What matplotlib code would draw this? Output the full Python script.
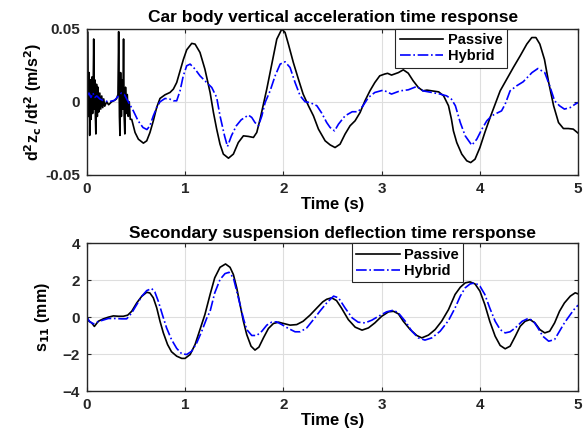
import matplotlib
matplotlib.use('Agg')
import matplotlib.pyplot as plt

plt.rcParams['font.family'] = ['Liberation Sans', 'DejaVu Sans']
plt.rcParams['font.weight'] = 'bold'
plt.rcParams['mathtext.default'] = 'bf'

# car body vertical acceleration (m/s^2)
t_acc_p = [0.0, 0.005, 0.015, 0.022, 0.027, 0.035, 0.042, 0.05, 0.057, 0.063,
           0.068, 0.075, 0.08, 0.085, 0.09, 0.097, 0.105, 0.112, 0.12, 0.13,
           0.14, 0.15, 0.16, 0.17, 0.18, 0.2, 0.22, 0.25, 0.28, 0.3,
           0.315, 0.322, 0.33, 0.335, 0.342, 0.35, 0.357, 0.365, 0.372, 0.378,
           0.385, 0.392, 0.4, 0.41, 0.42, 0.43, 0.44, 0.455, 0.489, 0.523,
           0.574, 0.608, 0.641, 0.675, 0.709, 0.743, 0.794, 0.845, 0.879, 0.913,
           0.947, 0.981, 1.015, 1.066, 1.10, 1.15, 1.20, 1.253, 1.287, 1.32,
           1.354, 1.388, 1.44, 1.49, 1.54, 1.592, 1.643, 1.694, 1.728, 1.762,
           1.796, 1.83, 1.864, 1.898, 1.932, 1.983, 2.016, 2.05, 2.10, 2.152,
           2.20, 2.254, 2.305, 2.356, 2.424, 2.475, 2.525, 2.576, 2.627, 2.678,
           2.729, 2.78, 2.83, 2.88, 2.93, 2.98, 3.03, 3.06, 3.10, 3.13,
           3.17, 3.22, 3.27, 3.32, 3.373, 3.42, 3.46, 3.51, 3.58, 3.63,
           3.68, 3.71, 3.73, 3.764, 3.815, 3.866, 3.906, 3.95, 4.0, 4.05,
           4.104, 4.155, 4.206, 4.273, 4.34, 4.41, 4.477, 4.528, 4.57, 4.61,
           4.657, 4.70, 4.75, 4.80, 4.85, 4.90, 4.95, 5.0]
acc_passive = [0.0, 0.048, -0.01, 0.02, -0.023, 0.015, -0.012, 0.017, -0.008, 0.01,
               0.043, -0.005, 0.015, -0.01, -0.022, 0.012, -0.01, 0.01, -0.007, 0.006,
               -0.005, 0.004, -0.004, 0.002, -0.003, 0.0, -0.002, 0.0, 0.001, 0.002,
               0.005, 0.048, -0.01, -0.023, 0.02, -0.01, 0.015, -0.005, 0.043, -0.01,
               -0.022, 0.01, -0.008, 0.005, -0.01, 0.0, -0.012, -0.012, -0.021, -0.0256,
               -0.0283, -0.0267, -0.021, -0.013, -0.0039, 0.0023, 0.0048, 0.0064, 0.0087, 0.0132,
               0.0212, 0.029, 0.0356, 0.040, 0.0395, 0.0338, 0.0224, 0.0064, -0.0073, -0.0187,
               -0.029, -0.0358, -0.0386, -0.0358, -0.0279, -0.0233, -0.0237, -0.0244, -0.021, -0.0119,
               -0.0016, 0.0087, 0.020, 0.0315, 0.0429, 0.0498, 0.0475, 0.0395, 0.027, 0.0155,
               0.0053, -0.0027, -0.0096, -0.0187, -0.0267, -0.0295, -0.0313, -0.029, -0.0221, -0.0164,
               -0.013, -0.0073, 0.0007, 0.0075, 0.0132, 0.0178, 0.019, 0.0195, 0.0183, 0.0190,
               0.020, 0.0219, 0.0196, 0.0144, 0.0098, 0.0075, 0.0080, 0.0075, 0.0068, 0.0041,
               -0.0027, -0.0119, -0.0199, -0.0279, -0.0358, -0.0404, -0.0416, -0.0393, -0.0313, -0.021,
               -0.0107, -0.0016, 0.0075, 0.0155, 0.0235, 0.0315, 0.0395, 0.044, 0.044, 0.0395,
               0.029, 0.0132, -0.0027, -0.0142, -0.0183, -0.0183, -0.0187, -0.0215]

t_acc_h = [0.0, 0.02, 0.04, 0.06, 0.08, 0.10, 0.13, 0.16, 0.22, 0.28,
           0.32, 0.35, 0.38, 0.42, 0.47, 0.52, 0.57, 0.61, 0.64, 0.675,
           0.71, 0.743, 0.794, 0.845, 0.879, 0.913, 0.947, 0.98, 1.015, 1.05,
           1.10, 1.15, 1.20, 1.27, 1.32, 1.354, 1.40, 1.43, 1.47, 1.52,
           1.57, 1.643, 1.677, 1.71, 1.745, 1.78, 1.813, 1.864, 1.915, 1.966,
           2.016, 2.067, 2.118, 2.17, 2.22, 2.27, 2.34, 2.39, 2.44, 2.475,
           2.52, 2.56, 2.627, 2.70, 2.76, 2.81, 2.865, 2.93, 3.017, 3.10,
           3.187, 3.27, 3.357, 3.42, 3.51, 3.595, 3.66, 3.71, 3.75, 3.80,
           3.85, 3.917, 3.968, 4.02, 4.07, 4.12, 4.172, 4.22, 4.257, 4.307,
           4.375, 4.44, 4.53, 4.59, 4.66, 4.71, 4.76, 4.81, 4.86, 4.92,
           4.97, 5.0]
acc_hybrid = [0.004, 0.006, 0.003, 0.006, 0.003, 0.004, 0.002, 0.001, 0.0, 0.001,
              0.004, 0.006, 0.005, 0.0, -0.006, -0.013, -0.0176, -0.019, -0.0164, -0.0096,
              -0.0039, 0.0, 0.0023, 0.0018, 0.0007, 0.0007, 0.0075, 0.0178, 0.0247, 0.0258,
              0.0224, 0.0178, 0.0144, 0.0098, 0.003, -0.0096, -0.0233, -0.0306, -0.0233, -0.0164,
              -0.0123, -0.0091, -0.0107, -0.0142, -0.0164, -0.0096, -0.0005, 0.0075, 0.0178, 0.0258,
              0.0274, 0.0235, 0.0132, 0.0041, 0.0, -0.0005, -0.0027, -0.0078, -0.0142, -0.0176,
              -0.0199, -0.0153, -0.0096, -0.0068, -0.0068, -0.0027, 0.003, 0.0064, 0.008, 0.0053,
              0.0075, 0.0082, 0.0105, 0.0075, 0.0064, 0.0053, 0.0041, 0.0018, -0.0027, -0.0142,
              -0.0233, -0.0297, -0.0256, -0.0187, -0.013, -0.0096, -0.0078, -0.0062, -0.0016, 0.0075,
              0.011, 0.0137, 0.020, 0.0228, 0.020, 0.011, 0.0007, -0.0027, -0.005, -0.0039,
              -0.0016, -0.0005]

# secondary suspension deflection (mm)
t_def_p = [0.0, 0.02, 0.048, 0.075, 0.115, 0.166, 0.217, 0.268, 0.32, 0.37,
           0.414, 0.455, 0.506, 0.557, 0.608, 0.64, 0.675, 0.71, 0.743, 0.777,
           0.82, 0.86, 0.913, 0.964, 0.998, 1.05, 1.10, 1.15, 1.20, 1.253,
           1.30, 1.354, 1.41, 1.456, 1.49, 1.524, 1.558, 1.592, 1.626, 1.67,
           1.71, 1.75, 1.796, 1.847, 1.898, 1.95, 2.0, 2.067, 2.135, 2.2,
           2.27, 2.34, 2.4, 2.44, 2.49, 2.54, 2.59, 2.66, 2.73, 2.80,
           2.865, 2.93, 3.0, 3.07, 3.12, 3.17, 3.22, 3.29, 3.357, 3.408,
           3.476, 3.544, 3.61, 3.68, 3.747, 3.80, 3.85, 3.90, 3.95, 4.0,
           4.05, 4.10, 4.155, 4.206, 4.257, 4.307, 4.36, 4.41, 4.46, 4.51,
           4.56, 4.61, 4.66, 4.71, 4.76, 4.81, 4.86, 4.92, 4.97, 5.0]
def_passive = [0.0, -0.22, -0.31, -0.5, -0.22, -0.09, 0.0, 0.07, 0.05, 0.05,
               0.11, 0.32, 0.77, 1.13, 1.35, 1.31, 1.05, 0.5, -0.22, -0.85,
               -1.48, -1.87, -2.11, -2.23, -2.23, -2.02, -1.48, -0.67, 0.14, 1.23,
               2.13, 2.70, 2.88, 2.70, 2.31, 1.59, 0.68, -0.22, -0.94, -1.57,
               -1.78, -1.62, -1.12, -0.61, -0.34, -0.27, -0.34, -0.43, -0.40, -0.22,
               0.11, 0.50, 0.83, 0.97, 1.05, 0.90, 0.50, -0.13, -0.54, -0.70,
               -0.58, -0.31, 0.05, 0.29, 0.32, 0.18, -0.22, -0.67, -0.99, -1.12,
               -0.97, -0.67, -0.22, 0.41, 1.23, 1.62, 1.86, 1.91, 1.80, 1.41,
               0.68, -0.22, -1.03, -1.53, -1.71, -1.57, -1.03, -0.49, -0.22, -0.13,
               -0.31, -0.67, -0.85, -0.76, -0.31, 0.32, 0.77, 1.14, 1.32, 1.26]

t_def_h = [0.0, 0.015, 0.03, 0.064, 0.10, 0.15, 0.217, 0.285, 0.353, 0.404,
           0.455, 0.506, 0.557, 0.608, 0.658, 0.69, 0.726, 0.767, 0.81, 0.86,
           0.913, 0.964, 1.015, 1.066, 1.117, 1.168, 1.22, 1.253, 1.30, 1.354,
           1.405, 1.446, 1.49, 1.524, 1.558, 1.592, 1.626, 1.677, 1.728, 1.78,
           1.83, 1.88, 1.93, 1.983, 2.05, 2.118, 2.17, 2.237, 2.305, 2.37,
           2.44, 2.51, 2.56, 2.627, 2.70, 2.76, 2.83, 2.90, 2.967, 3.05,
           3.12, 3.17, 3.24, 3.307, 3.373, 3.44, 3.51, 3.595, 3.68, 3.747,
           3.80, 3.85, 3.90, 3.95, 4.0, 4.05, 4.10, 4.155, 4.206, 4.257,
           4.307, 4.36, 4.43, 4.49, 4.54, 4.59, 4.64, 4.70, 4.76, 4.81,
           4.86, 4.92, 4.97, 5.0]
def_hybrid = [0.0, -0.15, -0.25, -0.36, -0.27, -0.18, -0.07, -0.07, -0.09, -0.09,
              0.23, 0.68, 1.13, 1.44, 1.55, 1.37, 0.86, 0.14, -0.58, -1.21,
              -1.69, -1.98, -2.02, -1.84, -1.39, -0.76, -0.04, 0.32, 1.31, 2.04,
              2.36, 2.43, 2.13, 1.41, 0.68, -0.07, -0.67, -0.99, -0.99, -0.76,
              -0.43, -0.27, -0.25, -0.40, -0.61, -0.79, -0.79, -0.58, -0.13, 0.32,
              0.77, 1.14, 1.05, 0.50, -0.04, -0.27, -0.31, -0.16, 0.05, 0.29,
              0.38, 0.23, -0.22, -0.76, -1.12, -1.24, -1.12, -0.76, -0.18, 0.50,
              1.14, 1.59, 1.80, 1.86, 1.68, 1.23, 0.50, -0.22, -0.67, -0.85,
              -0.79, -0.58, -0.22, -0.07, -0.18, -0.58, -1.03, -1.30, -1.21, -0.76,
              -0.31, 0.14, 0.50, 0.65]


def style_axes(ax):
    ax.grid(True, color='#dedede', linewidth=0.8)
    ax.set_axisbelow(True)
    for s in ax.spines.values():
        s.set_color('#262626')
        s.set_linewidth(1.0)
    ax.tick_params(direction='in', length=3, top=True, right=True, pad=5,
                   labelsize=11, colors='#262626', width=0.8)
    for lab in ax.get_xticklabels() + ax.get_yticklabels():
        lab.set_fontweight('bold')


def add_legend(ax, x_right):
    leg = ax.legend(loc='upper right', bbox_to_anchor=(x_right, 1.0), fontsize=10.5,
                    fancybox=False, edgecolor='#262626', framealpha=1,
                    borderpad=0.3, handlelength=3.0, labelspacing=0.15,
                    borderaxespad=0, handletextpad=0.3)
    leg.get_frame().set_linewidth(0.8)
    for txt in leg.get_texts():
        txt.set_fontweight('bold')


fig = plt.figure(figsize=(5.84, 4.36), dpi=100)
ax1 = fig.add_axes([0.149, 0.599, 0.841, 0.335])
ax2 = fig.add_axes([0.149, 0.103, 0.841, 0.339])

ax1.plot(t_acc_p, acc_passive, color='black', lw=1.2, label='Passive')
ax1.plot(t_acc_h, acc_hybrid, color='blue', lw=1.2, ls='-.', label='Hybrid')
ax1.set_xlim(0, 5)
ax1.set_ylim(-0.05, 0.05)
ax1.set_xticks([0, 1, 2, 3, 4, 5])
ax1.set_yticks([-0.05, 0, 0.05])
ax1.set_yticklabels(['-0.05', '0', '0.05'])
ax1.set_title('Car body vertical acceleration time response', fontsize=12.5,
              fontweight='bold', pad=5)
ax1.set_xlabel('Time (s)', fontsize=12, fontweight='bold', labelpad=1)
ax1.set_ylabel('d$^2$z$_c$ /dt$^2$ (m/s$^2$)', fontsize=11.5, fontweight='bold',
               labelpad=1)
style_axes(ax1)
add_legend(ax1, 0.855)

ax2.plot(t_def_p, def_passive, color='black', lw=1.2, label='Passive')
ax2.plot(t_def_h, def_hybrid, color='blue', lw=1.2, ls='-.', label='Hybrid')
ax2.set_xlim(0, 5)
ax2.set_ylim(-4, 4)
ax2.set_xticks([0, 1, 2, 3, 4, 5])
ax2.set_yticks([-4, -2, 0, 2, 4])
ax2.set_title('Secondary suspension deflection time rersponse', fontsize=12.5,
              fontweight='bold', pad=4)
ax2.set_xlabel('Time (s)', fontsize=12, fontweight='bold', labelpad=1)
ax2.set_ylabel('s$_{11}$ (mm)', fontsize=11.5, fontweight='bold', labelpad=8)
style_axes(ax2)
add_legend(ax2, 0.766)

fig.savefig('out.png', dpi=100)
